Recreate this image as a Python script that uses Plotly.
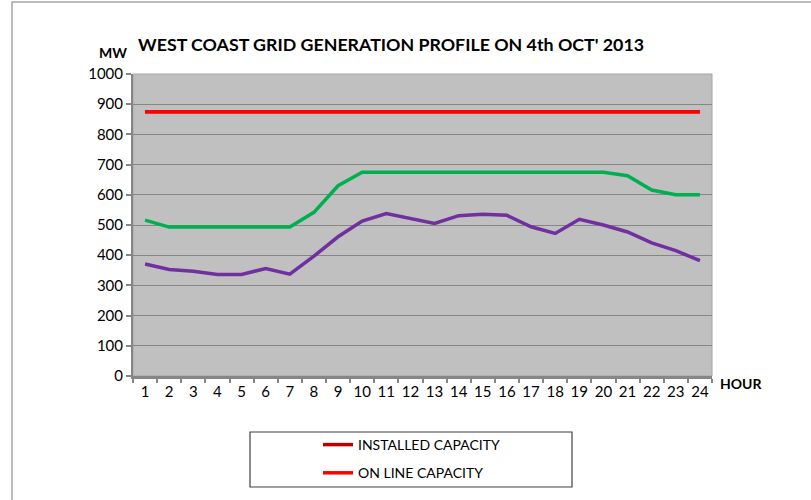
import plotly.graph_objects as go

hours = [str(h) for h in range(1, 25)]
installed_capacity = [875] * 24
online_capacity = [875] * 24
available_generation = [516, 493, 493, 493, 493, 493, 493, 542, 630, 675, 675, 675, 675, 675,
                        675, 675, 675, 675, 675, 675, 663, 616, 600, 600]
actual_generation = [371, 353, 347, 336, 336, 356, 337, 397, 461, 513, 538, 521, 505, 531,
                     536, 532, 494, 472, 519, 500, 477, 441, 415, 382]

FONT = "Lato"
fig = go.Figure()
fig.add_trace(go.Scatter(x=hours, y=installed_capacity, mode="lines", name="INSTALLED CAPACITY",
                         line=dict(color="#C00000", width=3.5), legendgroup="a"))
fig.add_trace(go.Scatter(x=hours, y=online_capacity, mode="lines", name="ON LINE CAPACITY",
                         line=dict(color="#FF0000", width=3.5), legendgroup="b"))
fig.add_trace(go.Scatter(x=hours, y=available_generation, mode="lines", showlegend=False,
                         line=dict(color="#00B050", width=3.5)))
fig.add_trace(go.Scatter(x=hours, y=actual_generation, mode="lines", showlegend=False,
                         line=dict(color="#7030A0", width=3.5)))

L, R, T, B = 133, 712, 74, 376
W = R - L
H = B - T
def px(x):
    return (x - L) / W
def py(y):
    return (B - y) / H

fig.update_layout(
    width=811, height=500,
    margin=dict(l=L, r=811 - R, t=T, b=500 - B, autoexpand=False),
    paper_bgcolor="white", plot_bgcolor="#C0C0C0",
    font=dict(family=FONT, size=15, color="black"),
    title=dict(text="<b>WEST COAST GRID GENERATION PROFILE ON 4th OCT' 2013</b>",
               x=px(391), xref="paper", xanchor="center", y=1 - 45 / 500, yanchor="middle",
               font=dict(size=17.8, family=FONT, color="black")),
    xaxis=dict(type="category", range=[-0.5, 23.5], tickson="boundaries", ticks="outside",
               ticklen=4, tickangle=0, automargin=False,
               tickcolor="#868686", tickwidth=2, showline=True, linecolor="#868686",
               linewidth=3, showgrid=False, tickfont=dict(size=15), fixedrange=True),
    yaxis=dict(range=[0, 1000], dtick=100, ticks="outside", ticklen=5, tickcolor="#868686",
               tickwidth=1.5, showline=True, linecolor="#868686", linewidth=2, automargin=False,
               gridcolor="#868686", gridwidth=1, zeroline=False, tickfont=dict(size=15),
               fixedrange=True),
    showlegend=True,
    legend=dict(x=px(318), y=py(429), xanchor="left", yanchor="top",
                bgcolor="rgba(0,0,0,0)", traceorder="grouped", tracegroupgap=7,
                font=dict(size=14, family=FONT)),
    shapes=[
        dict(type="rect", xref="paper", yref="paper", x0=0, x1=1, y0=0, y1=1,
             line=dict(color="#A6A6A6", width=1), layer="below"),
        dict(type="rect", xref="paper", yref="paper", x0=px(250), x1=px(572),
             y0=py(487), y1=py(432), line=dict(color="#404040", width=1.2)),
        dict(type="rect", xref="paper", yref="paper", x0=px(12), x1=px(830),
             y0=py(520), y1=py(2), line=dict(color="#A6A6A6", width=1.5)),
    ],
    annotations=[
        dict(text="<b>MW</b>", xref="paper", yref="paper", x=px(113), y=py(52),
             xanchor="center", yanchor="middle", showarrow=False,
             font=dict(size=14, family=FONT)),
        dict(text="<b>HOUR</b>", xref="paper", yref="paper", x=px(718), y=py(383),
             xanchor="left", yanchor="middle", showarrow=False,
             font=dict(size=14, family=FONT)),
    ],
)

fig.write_html("out.html", config={"displayModeBar": False},
               post_script="document.body.style.margin='0';")
